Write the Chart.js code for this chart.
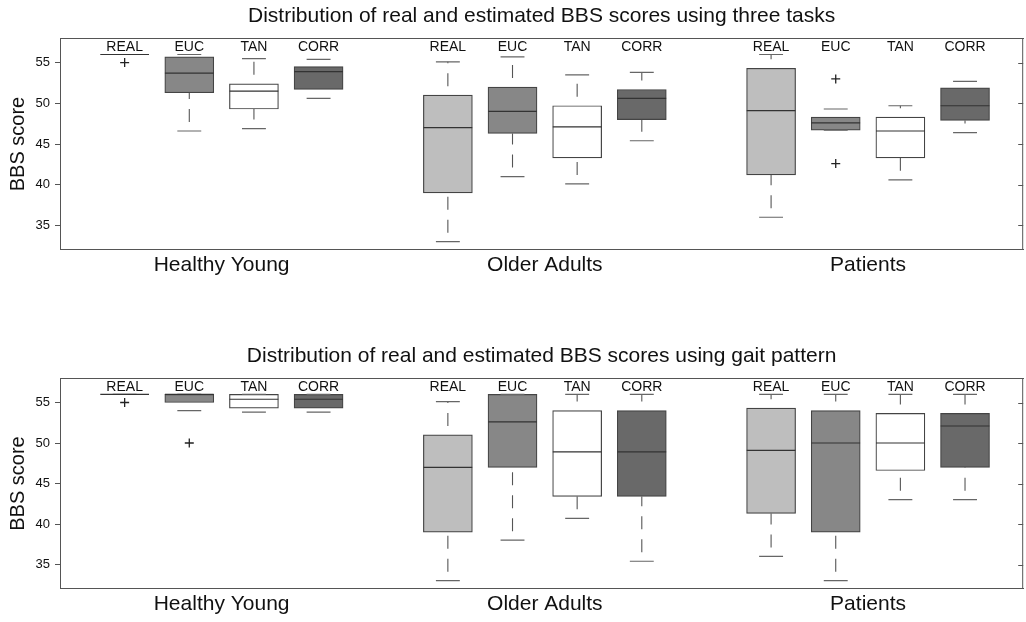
<!DOCTYPE html>
<html><head><meta charset="utf-8">
<script src="https://cdn.jsdelivr.net/npm/chart.js@4.4.0/dist/chart.umd.min.js"></script>
<style>
html,body{margin:0;padding:0;background:#fff;overflow:hidden;width:1026px;height:622px;}
canvas{position:absolute;left:0;}
#c1{top:0}
#c2{top:340px}
</style></head><body>
<canvas id="c1" width="1029" height="340"></canvas>
<canvas id="c2" width="1029" height="282"></canvas>
<script>
const groups = ['Healthy Young', 'Older Adults', 'Patients'];
const methods = ['REAL', 'EUC', 'TAN', 'CORR'];
const yTicks = [35, 40, 45, 50, 55];
const titles = ['Distribution of real and estimated BBS scores using three tasks',
                'Distribution of real and estimated BBS scores using gait pattern'];

// each box: [min, q1, median, q3, max], one per group
const tasksREAL = [[56, 56, 56, 56, 56], [33, 39, 47, 51, 55.1], [36, 41.2, 49.1, 54.3, 56]];
const tasksEUC  = [[46.6, 51.3, 53.7, 55.7, 56], [41, 46.3, 49, 52, 55.7], [46.7, 46.7, 47.6, 48.3, 49.3]];
const tasksTAN  = [[46.9, 49.3, 51.5, 52.4, 55.5], [40.1, 43.3, 47.1, 49.7, 53.5], [40.6, 43.3, 46.6, 48.3, 49.7]];
const tasksCORR = [[50.6, 51.7, 53.9, 54.5, 55.4], [45.4, 48, 50.6, 51.7, 53.8], [46.4, 47.9, 49.7, 51.9, 52.7]];
const tasksOutREAL = [[55], [], []];
const tasksOutEUC  = [[], [], [53, 42.6]];
const tasksOutTAN  = [[], [], []];
const tasksOutCORR = [[], [], []];

const gaitREAL = [[56, 56, 56, 56, 56], [33, 39, 47, 51, 55.1], [36, 41.3, 49.1, 54.3, 56]];
const gaitEUC  = [[54, 55, 56, 56, 56], [38, 47, 52.6, 56, 56], [33, 39, 50, 54, 56]];
const gaitTAN  = [[53.8, 54.3, 55.4, 56, 56], [40.7, 43.4, 48.9, 54, 56], [43, 46.6, 50, 53.65, 56]];
const gaitCORR = [[53.8, 54.3, 55.4, 56, 56], [35.4, 43.4, 48.9, 54, 56], [43, 47, 52.1, 53.65, 56]];
const gaitOutREAL = [[55], [], []];
const gaitOutEUC  = [[50], [], []];
const gaitOutTAN  = [[], [], []];
const gaitOutCORR = [[], [], []];

const FILLS = ['#bebebe', '#878787', '#ffffff', '#696969'];
const CAP = 0.185, HALF = 0.377;
const FONT = "'Liberation Sans', Arial, Helvetica, sans-serif";
Chart.defaults.font.family = FONT;
Chart.defaults.color = '#111';

function pos(gi, mi) { return gi * 5 + mi + 1; }

const framePlugin = {
  id: 'frame',
  afterDraw(chart) {
    const {ctx, chartArea: a, scales: {x, y}} = chart;
    ctx.save();
    ctx.strokeStyle = '#555';
    ctx.lineWidth = 1;
    ctx.beginPath();
    ctx.moveTo(a.right - 0.5, a.top);
    ctx.lineTo(a.right - 0.5, a.bottom);
    y.ticks.forEach(t => {
      const py = Math.round(y.getPixelForValue(t.value)) + 0.5;
      ctx.moveTo(a.right - 5, py);
      ctx.lineTo(a.right, py);
    });
    ctx.stroke();
    ctx.font = '14px ' + FONT;
    ctx.fillStyle = '#111';
    ctx.textAlign = 'center';
    ctx.textBaseline = 'middle';
    groups.forEach((g, gi) => methods.forEach((m, mi) => {
      ctx.fillText(m, x.getPixelForValue(pos(gi, mi)), a.top + 9);
    }));
    ctx.restore();
  }
};

function buildChart(id, title, stats, outs, padBottom) {
  const datasets = [];
  const whisk = [], caps = [], meds = [], pts = [];
  stats.forEach((s, mi) => {
    s.forEach((b, gi) => {
      const p = pos(gi, mi);
      const [mn, q1, md, q3, mx] = b;
      whisk.push({x: p, y: mn}, {x: p, y: q1}, {x: p, y: null}, {x: p, y: q3}, {x: p, y: mx}, {x: p, y: null});
      caps.push({x: p - CAP, y: mn}, {x: p + CAP, y: mn}, {x: p, y: null}, {x: p - CAP, y: mx}, {x: p + CAP, y: mx}, {x: p, y: null});
      meds.push({x: p - HALF, y: md}, {x: p + HALF, y: md}, {x: p, y: null});
      outs[mi][gi].forEach(v => pts.push({x: p, y: v}));
    });
    datasets.push({
      type: 'bar', label: methods[mi],
      data: s.map((b, gi) => ({x: pos(gi, mi), y: [b[1], b[3]]})),
      backgroundColor: FILLS[mi], borderColor: '#444', borderWidth: 1.2, borderSkipped: false,
      barThickness: 49, grouped: false, order: 2
    });
  });
  datasets.push({type: 'line', data: whisk, borderColor: '#555', borderWidth: 1.1, borderDash: [13, 10], borderDashOffset: 14,
    pointRadius: 0, spanGaps: false, fill: false, order: 3});
  datasets.push({type: 'line', data: caps, borderColor: '#666', borderWidth: 1.2, pointRadius: 0, spanGaps: false, fill: false, order: 1});
  datasets.push({type: 'line', data: meds, borderColor: '#333', borderWidth: 1.2, pointRadius: 0, spanGaps: false, fill: false, order: 0});
  datasets.push({type: 'line', data: pts, showLine: false, pointStyle: 'cross', pointRadius: 4.5, pointBorderWidth: 1.3,
    pointBorderColor: '#222', borderColor: '#222', order: 0});

  return new Chart(document.getElementById(id), {
    type: 'bar',
    data: {datasets},
    plugins: [framePlugin],
    options: {
      responsive: false, animation: false, events: [],
      layout: {padding: {left: 0, right: 1, top: 0, bottom: padBottom}},
      plugins: {legend: {display: false}, tooltip: {enabled: false}, title: {display: false}},
      scales: {
        x: {
          type: 'linear', position: 'bottom', min: 0, max: 14.9, offset: false,
          grid: {display: false, drawTicks: false, offset: false},
          border: {display: true, color: '#555', width: 1},
          afterBuildTicks: s => { s.ticks = groups.map((g, gi) => ({value: gi * 5 + 2.5})); },
          ticks: {callback: (v, i) => groups[i], font: {size: 21}, color: '#111', padding: 3, maxRotation: 0, autoSkip: false}
        },
        x2: {
          type: 'linear', position: 'top', min: 0, max: 14.9, offset: false,
          grid: {display: false, drawTicks: false},
          border: {display: true, color: '#555', width: 1},
          ticks: {display: false},
          title: {display: true, text: title, font: {size: 21}, color: '#111', padding: {top: 4, bottom: 9}}
        },
        y: {
          type: 'linear', position: 'left', min: 32, max: 58,
          afterBuildTicks: s => { s.ticks = yTicks.map(v => ({value: v})); },
          afterFit: s => { s.width = 60; },
          grid: {display: true, drawOnChartArea: false, drawTicks: true, tickLength: 5, color: '#555'},
          border: {display: true, color: '#555', width: 1},
          ticks: {font: {size: 13}, color: '#111', padding: 5},
          title: {display: true, text: 'BBS score', font: {size: 20}, color: '#111', padding: {top: 6, bottom: 0}}
        }
      }
    }
  });
}

buildChart('c1', titles[0], [tasksREAL, tasksEUC, tasksTAN, tasksCORR],
  [tasksOutREAL, tasksOutEUC, tasksOutTAN, tasksOutCORR], 59);
buildChart('c2', titles[1], [gaitREAL, gaitEUC, gaitTAN, gaitCORR],
  [gaitOutREAL, gaitOutEUC, gaitOutTAN, gaitOutCORR], 2);
</script>
</body></html>
